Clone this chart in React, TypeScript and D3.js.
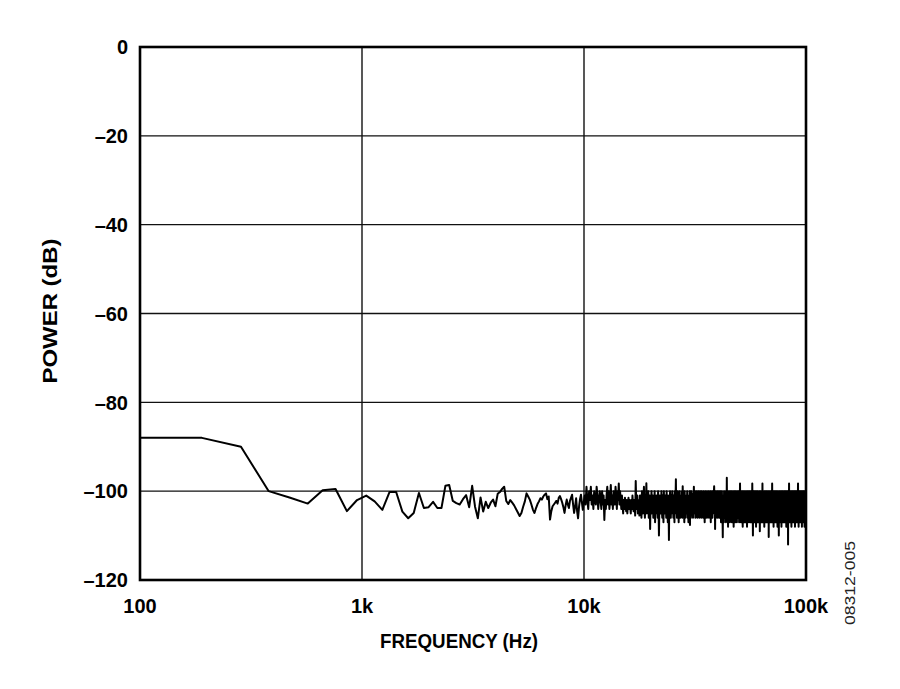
import React from "react";
import * as d3 from "d3";

// FFT bin spacing of the spectrum (Hz); bin k sits at k * BIN_HZ
const BIN_HZ = 95;

// bins 1-35 (95 Hz … 3.3 kHz)
const lowBand = [
  -88, -88, -90, -100, -101.5, -102.8, -99.8, -99.5, -104.5, -102, -101, -102.3,
  -104.2, -100.2, -100.2, -104.6, -106.1, -104.9, -100.4, -103.8, -103.6, -102.4,
  -103.8, -103.8, -98.8, -98.6, -102.2, -102.7, -103, -101.8, -100.9, -103.6, -98.8,
  -103.5, -106.1,
];

// bins 36-105 (3.4 kHz … 10 kHz)
const midBand = [
  -101.4, -104.6, -102.4, -103.8, -102.6, -101.9, -103.4, -100.6, -100.2, -99.5,
  -99, -102.2, -102.9, -102, -102.6, -103.2, -104, -104.8, -105.6, -104.9,
  -103.5, -102.3, -100.5, -101.2, -101.9, -103, -104.2, -104.9, -103.8, -102.9,
  -102.3, -101.6, -101.9, -101.2, -100.8, -100.5, -101.8, -101.2, -106.4, -104.5,
  -103.4, -103, -102.6, -102.2, -102.8, -101.5, -101.1, -101.8, -102.6, -103.6,
  -104.9, -103.2, -101.9, -103, -103.8, -102.2, -101.5, -100.8, -103, -104.9,
  -103.4, -101.6, -104.5, -106.1, -103.5, -101.8, -100.8, -102.5, -104.2, -102.5,
];

// bins 106-124
const band10k = [
  -101, -103, -99, -102, -104, -100, -102, -99, -103, -101, -104, -100, -102, -103,
  -99, -101, -104, -102, -100,
];

// bins 125-153
const band12k = [
  -102, -104, -100, -103, -101, -106.5, -102, -104, -101, -99,
  -103, -100, -104, -102, -98.6, -103, -101, -104, -100, -102,
  -103, -99, -101, -104, -100, -102, -98.3, -103, -100,
];

// bins 154-188
const band15k = [
  -102, -104, -101, -103, -105, -102, -104, -101.5, -103, -104.5,
  -102, -105, -103, -101.5, -104, -102, -103.5, -105, -102, -104,
  -101, -103, -104.5, -102, -103, -105.5, -97.7, -103, -104, -101,
  -105, -102, -104, -105.5, -101,
];

// bins 189-232
const band18k = [
  -101, -104, -106, -100, -103, -105, -102, -99, -104, -106,
  -101, -103, -98.2, -105, -102, -104, -100, -106, -103, -101,
  -108.5, -102, -104, -100, -105, -103, -101, -106, -102, -104,
  -100, -107, -103, -105, -101, -104, -102, -106, -100, -103,
  -110, -104, -101, -105,
];

// bins 233-316
const band22k = [
  -102, -105, -100, -104, -106, -101, -103, -107, -100, -104,
  -102, -105, -101, -103, -106, -100, -104, -102, -107, -101,
  -103, -111, -102, -105, -100, -104, -106, -101, -103, -105,
  -100, -104, -102, -106, -101, -103, -107, -100, -105, -102,
  -97.3, -104, -101, -106, -103, -100, -105, -102, -107, -101,
  -104, -100, -103, -106, -101, -105, -102, -104, -100, -106,
  -98.9, -103, -105, -101, -104, -107, -100, -103, -106, -102,
  -104, -101, -105, -103, -100, -106, -102, -104, -107, -101,
  -103, -105, -100, -107.6,
];

// bins 317-431
const band30k = [
  -101, -104, -106, -100, -103, -105, -102, -100.5, -104, -106,
  -101, -103, -99, -105, -102, -104, -100, -106, -103, -101,
  -105, -102, -100, -104, -106, -101, -103, -105, -100, -104,
  -102, -106, -101, -103, -100, -105, -104, -102, -106, -100,
  -103, -105, -101, -104, -102, -106, -100, -103, -105, -101,
  -104, -107, -102, -100, -105, -103, -101, -106, -102, -104,
  -100, -105, -103, -101, -106, -102, -104, -100, -105, -103,
  -101, -106, -102, -104, -100, -107, -103, -101, -105, -102,
  -104, -100, -106, -103, -101, -105, -102, -104, -100, -98.9,
  -103, -105, -101, -108.5, -102, -104, -100, -106, -103, -101,
  -105, -102, -104, -100, -106, -103, -101, -105, -102, -104,
  -100, -106, -103, -101, -105,
];

// bins 432-653
const band41k = [
  -102, -105, -100, -104, -107, -101, -103, -106, -100, -104,
  -102, -106, -110.4, -103, -101, -105, -102, -107, -100, -104,
  -103, -106, -101, -105, -102, -104, -100, -107, -103, -101,
  -105, -97, -104, -102, -106, -100, -103, -108, -101, -105,
  -102, -104, -100, -106, -103, -101, -107, -102, -105, -100,
  -104, -106, -101, -103, -105, -100, -107, -102, -104, -101,
  -106, -103, -100, -105, -102, -108, -101, -104, -106, -100,
  -103, -105, -101, -107, -102, -104, -100, -106, -103, -101,
  -105, -102, -107, -100, -104, -106, -101, -103, -105, -102,
  -100, -106, -104, -101, -107, -103, -105, -100, -102, -98.3,
  -104, -106, -101, -103, -107, -100, -105, -102, -104, -101,
  -106, -103, -100, -105, -108, -102, -104, -101, -106, -103,
  -100, -105, -102, -107, -101, -104, -106, -100, -103, -105,
  -102, -107, -101, -104, -100, -106, -103, -105, -101, -108,
  -102, -104, -100, -106, -103, -101, -107, -102, -105, -100,
  -104, -106, -101, -103, -105, -100, -107, -102, -104, -101,
  -106, -103, -100, -105, -102, -107, -101, -104, -106, -100,
  -103, -98.3, -105, -102, -106, -110, -101, -104, -100, -107,
  -103, -101, -105, -102, -106, -100, -104, -107, -101, -103,
  -105, -100, -106, -102, -104, -108, -101, -103, -105, -100,
  -107, -102, -104, -101, -106, -103, -100, -105, -102, -107,
  -101, -104,
];

// bins 654-1052
const band62k = [
  -103, -106, -101, -104, -107, -100, -105, -102, -109, -104,
  -101, -106, -103, -100, -105, -107, -102, -104, -101, -106,
  -103, -105, -100, -107, -102, -104, -98.3, -105, -101, -106,
  -103, -100, -107, -104, -102, -105, -101, -106, -103, -108,
  -100, -104, -102, -106, -101, -105, -103, -107, -100, -104,
  -106, -102, -105, -101, -107, -103, -100, -104, -106, -102,
  -105, -101, -107, -103, -104, -100, -106, -102, -105, -103,
  -101, -110.3, -104, -100, -106, -102, -105, -107, -101, -103,
  -106, -100, -104, -102, -107, -105, -101, -103, -106, -100,
  -105, -102, -104, -107, -101, -103, -106, -98.3, -104, -102,
  -107, -100, -105, -103, -101, -106, -104, -102, -108, -100,
  -103, -105, -101, -107, -102, -104, -106, -100, -105, -103,
  -101, -106, -104, -102, -107, -100, -105, -103, -101, -106,
  -104, -102, -107, -100, -105, -103, -106, -101, -104, -108,
  -102, -105, -100, -106, -103, -101, -107, -104, -102, -105,
  -110, -103, -100, -106, -104, -101, -107, -102, -105, -103,
  -100, -106, -104, -102, -107, -101, -105, -103, -106, -100,
  -104, -102, -108, -101, -105, -103, -106, -100, -104, -107,
  -102, -105, -101, -106, -103, -100, -107, -104, -102, -105,
  -101, -106, -103, -104, -100, -107, -102, -105, -106, -101,
  -103, -104, -100, -106, -102, -107, -101, -105, -103, -104,
  -100, -106, -102, -105, -108, -101, -104, -103, -107, -100,
  -105, -102, -106, -101, -104, -103, -107, -100, -105, -102,
  -112, -104, -101, -106, -103, -105, -100, -107, -102, -98.3,
  -104, -101, -106, -103, -105, -100, -107, -102, -104, -106,
  -101, -105, -103, -100, -107, -102, -104, -106, -101, -105,
  -103, -108, -100, -104, -102, -106, -101, -105, -103, -107,
  -100, -104, -102, -105, -106, -101, -103, -107, -100, -105,
  -102, -104, -106, -101, -103, -105, -100, -107, -102, -104,
  -106, -101, -105, -103, -100, -108, -102, -104, -106, -101,
  -103, -105, -100, -107, -104, -102, -106, -101, -105, -103,
  -100, -106, -102, -104, -107, -101, -105, -103, -106, -100,
  -104, -102, -107, -105, -101, -98.3, -103, -106, -100, -104,
  -102, -108, -101, -105, -103, -106, -100, -107, -104, -102,
  -105, -101, -106, -103, -104, -100, -107, -102, -105, -106,
  -101, -103, -105, -100, -107, -104, -102, -106, -101, -105,
  -103, -100, -106, -104, -102, -108, -101, -105, -103, -107,
  -100, -104, -102, -106, -105, -101, -103, -107, -100, -104,
  -102, -106, -101, -105, -103, -100, -107, -104, -102,
  -106, -101, -105, -103, -108, -100, -104, -102, -107, -103,
];

const xTicks = [100, 1000, 10000, 100000];
const xTickLabels = ["100", "1k", "10k", "100k"];
const yTicks = [0, -20, -40, -60, -80, -100, -120];
const yTickLabels = ["0", "–20", "–40", "–60", "–80", "–100", "–120"];

const FONT = "'Liberation Sans', Arial, Helvetica, sans-serif";

export default function App() {
  const W = 900;
  const H = 689;
  const left = 140;
  const right = 806;
  const top = 47;
  const bottom = 580;

  const x = d3.scaleLog().domain([100, 100000]).range([left, right]);
  const y = d3.scaleLinear().domain([-120, 0]).range([bottom, top]);

  const power = [
    ...lowBand, ...midBand, ...band10k, ...band12k, ...band15k, ...band18k,
    ...band22k, ...band30k, ...band41k, ...band62k,
  ];
  const data = power.map((v, i) => ({ f: (i + 1) * BIN_HZ, v }));
  const line = d3
    .line<{ f: number; v: number }>()
    .x((d) => x(d.f))
    .y((d) => y(d.v));

  return (
    <svg
      width={W}
      height={H}
      viewBox={`0 0 ${W} ${H}`}
      style={{ position: "absolute", left: 0, top: 0, background: "#fff" }}
    >
      <rect x={0} y={0} width={W} height={H} fill="#fff" />
      <defs>
        <clipPath id="plotClip">
          <rect x={left} y={top} width={right - left} height={bottom - top} />
        </clipPath>
      </defs>

      {/* grid */}
      {yTicks.map((t) => (
        <line key={"gy" + t} x1={left} x2={right} y1={y(t)} y2={y(t)} stroke="#111" strokeWidth={1.4} />
      ))}
      {xTicks.map((t) => (
        <line key={"gx" + t} x1={x(t)} x2={x(t)} y1={top} y2={bottom} stroke="#111" strokeWidth={1.4} />
      ))}

      {/* data */}
      <path
        d={line(data) || ""}
        fill="none"
        stroke="#000"
        strokeWidth={2}
        strokeLinejoin="round"
        clipPath="url(#plotClip)"
      />

      {/* frame */}
      <rect x={left} y={top} width={right - left} height={bottom - top} fill="none" stroke="#000" strokeWidth={2.6} />

      {/* y tick labels */}
      {yTicks.map((t, i) => (
        <text
          key={"ly" + t}
          x={128}
          y={y(t)}
          dy="0.36em"
          textAnchor="end"
          fontFamily={FONT}
          fontWeight="bold"
          fontSize={20}
          fill="#000"
        >
          {yTickLabels[i]}
        </text>
      ))}

      {/* x tick labels */}
      {xTicks.map((t, i) => (
        <text
          key={"lx" + t}
          x={x(t)}
          y={613}
          textAnchor="middle"
          fontFamily={FONT}
          fontWeight="bold"
          fontSize={20}
          fill="#000"
        >
          {xTickLabels[i]}
        </text>
      ))}

      {/* axis titles */}
      <text
        x={459}
        y={648}
        textAnchor="middle"
        fontFamily={FONT}
        fontWeight="bold"
        fontSize={20}
        textLength={158}
        lengthAdjust="spacingAndGlyphs"
        fill="#000"
      >
        FREQUENCY (Hz)
      </text>
      <text
        transform={`translate(57, 311) rotate(-90)`}
        textAnchor="middle"
        fontFamily={FONT}
        fontWeight="bold"
        fontSize={21}
        textLength={145}
        lengthAdjust="spacingAndGlyphs"
        fill="#000"
      >
        POWER (dB)
      </text>

      {/* figure id */}
      <text
        transform={`translate(855, 583) rotate(-90)`}
        textAnchor="middle"
        fontFamily={FONT}
        fontSize={14}
        textLength={84}
        lengthAdjust="spacingAndGlyphs"
        fill="#222"
      >
        08312-005
      </text>
    </svg>
  );
}
